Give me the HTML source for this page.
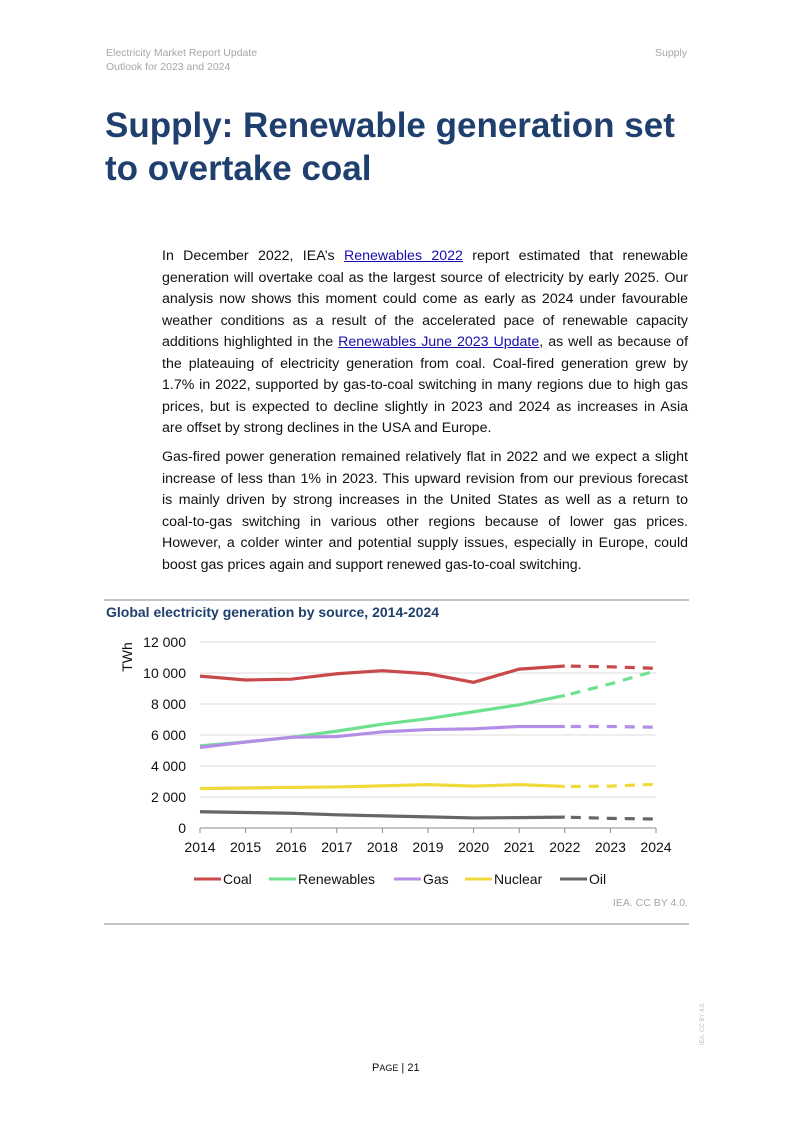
<!DOCTYPE html>
<html><head><meta charset="utf-8"><style>
body{margin:0;width:793px;height:1122px;background:#fff;position:relative;font-family:"Liberation Sans",sans-serif;overflow:hidden}
.hdr{position:absolute;font-size:10.5px;color:#a6a6a6}
h1{position:absolute;left:105px;top:104px;margin:0;font-size:35px;line-height:43px;color:#1f3f6e;font-weight:bold;width:600px}
.para{position:absolute;left:162px;width:526px;font-size:14.2px;color:#111}
.para div{height:21.5px;line-height:21.5px;text-align:justify;text-align-last:justify;white-space:nowrap;overflow:visible}
.para div.last{text-align-last:left}
a{color:#1a0dab;text-decoration:underline}
</style></head><body>
<div class="hdr" style="left:106px;top:47px">Electricity Market Report Update</div>
<div class="hdr" style="left:106px;top:61px">Outlook for 2023 and 2024</div>
<div class="hdr" style="left:655px;top:47px">Supply</div>
<h1>Supply: Renewable generation set to overtake coal</h1>
<div class="para" style="top:246px">
<div>In December 2022, IEA’s <a>Renewables 2022</a> report estimated that renewable</div>
<div>generation will overtake coal as the largest source of electricity by early 2025. Our</div>
<div>analysis now shows this moment could come as early as 2024 under favourable</div>
<div>weather conditions as a result of the accelerated pace of renewable capacity</div>
<div>additions highlighted in the <a>Renewables June 2023 Update</a>, as well as because of</div>
<div>the plateauing of electricity generation from coal. Coal-fired generation grew by</div>
<div>1.7% in 2022, supported by gas-to-coal switching in many regions due to high gas</div>
<div>prices, but is expected to decline slightly in 2023 and 2024 as increases in Asia</div>
<div class="last">are offset by strong declines in the USA and Europe.</div>
</div>
<div class="para" style="top:447px">
<div>Gas-fired power generation remained relatively flat in 2022 and we expect a slight</div>
<div>increase of less than 1% in 2023. This upward revision from our previous forecast</div>
<div>is mainly driven by strong increases in the United States as well as a return to</div>
<div>coal-to-gas switching in various other regions because of lower gas prices.</div>
<div>However, a colder winter and potential supply issues, especially in Europe, could</div>
<div class="last">boost gas prices again and support renewed gas-to-coal switching.</div>
</div>
<svg style="position:absolute;left:0;top:0" width="793" height="1122">
<line x1="104" y1="600" x2="689" y2="600" stroke="#7f8c97" stroke-width="1"/>
<line x1="104" y1="924" x2="689" y2="924" stroke="#7f8c97" stroke-width="1"/>
<text x="106" y="617" font-size="14" font-weight="bold" fill="#1f3f6e" font-family="Liberation Sans">Global electricity generation by source, 2014-2024</text>
<text transform="translate(132,657) rotate(-90)" text-anchor="middle" font-size="14" fill="#111" font-family="Liberation Sans">TWh</text>
<text x="688" y="906" text-anchor="end" font-size="10.5" fill="#a6a6a6" font-family="Liberation Sans">IEA. CC BY 4.0.</text>
<g id="plot"></g>
<g id="legend"></g>
</svg>
<div style="position:absolute;left:372px;top:1062px;font-size:11px;color:#111">P<span style="font-size:9px">AGE</span> | 21</div>
<div style="position:absolute;left:700px;top:1045px;font-size:6px;color:#bbb;transform:rotate(-90deg);transform-origin:left top">IEA. CC BY 4.0.</div>
<script>
const years=[2014,2015,2016,2017,2018,2019,2020,2021,2022,2023,2024];
const yTicks=[0,2000,4000,6000,8000,10000,12000];
const yTickLabels=["0","2 000","4 000","6 000","8 000","10 000","12 000"];
const seriesNames=["Coal","Renewables","Gas","Nuclear","Oil"];
const coal=[9800,9550,9600,9950,10150,9950,9400,10250,10450,10400,10300];
const renewables=[5300,5550,5850,6250,6700,7050,7500,7950,8550,9300,10150];
const gas=[5200,5550,5850,5900,6200,6350,6400,6550,6550,6550,6500];
const nuclear=[2550,2580,2620,2650,2720,2800,2700,2800,2680,2700,2820];
const oil=[1050,1000,950,850,780,720,650,670,700,620,580];
const colors=["#c9494b","#6ee08e","#b48ee6","#f0d93a","#666666"];
const NS="http://www.w3.org/2000/svg";
const x0=200,x1=656,y0=828,y1=642;
const xs=y=>x0+(y-2014)/(2024-2014)*(x1-x0);
const ys=v=>y0-v/12000*(y0-y1);
const g=document.getElementById('plot');
function mk(t,a,p){const e=document.createElementNS(NS,t);for(const k in a)e.setAttribute(k,a[k]);(p||g).appendChild(e);return e;}
yTicks.forEach((v,i)=>{
  if(v>0){const l=mk('line',{x1:x0,x2:x1,y1:ys(v),y2:ys(v),stroke:'#dcdcdc','stroke-width':1});
  
  }
  const t=mk('text',{x:186,y:ys(v)+5,'text-anchor':'end','font-size':14,fill:'#111','font-family':'Liberation Sans'});
  t.textContent=yTickLabels[i];
  
  
});
const ax=mk('line',{x1:x0,x2:x1,y1:y0,y2:y0,stroke:'#888','stroke-width':1});


years.forEach(y=>{
  mk('line',{x1:xs(y),x2:xs(y),y1:y0,y2:y0+5,stroke:'#888'});
  const t=mk('text',{x:xs(y),y:y0+24,'text-anchor':'middle','font-size':14,fill:'#111','font-family':'Liberation Sans'});
  t.textContent=y;
  
  
});
[coal,renewables,gas,nuclear,oil].forEach((s,i)=>{
  const hist=s.slice(0,9).map((v,j)=>xs(years[j])+','+ys(v)).join(' ');
  const fc=s.slice(8).map((v,j)=>xs(years[j+8])+','+ys(v)).join(' ');
  const p=mk('polyline',{points:hist,fill:'none',stroke:colors[i],'stroke-width':3.2});
  
  
  const q=mk('polyline',{points:fc,fill:'none',stroke:colors[i],'stroke-width':3.2,'stroke-dasharray':'10 8','stroke-dashoffset':'-6'});
  
  
});
const lg=document.getElementById('legend');
const lx=[194,269,394,465,560];
seriesNames.forEach((n,i)=>{
  const e=mk('g',{},lg);
  
  
  mk('line',{x1:lx[i],x2:lx[i]+27,y1:879,y2:879,stroke:colors[i],'stroke-width':3},e);
  const t=mk('text',{x:lx[i]+29,y:884,'font-size':14,fill:'#111','font-family':'Liberation Sans'},e);
  t.textContent=n;
});
</script>
</body></html>
